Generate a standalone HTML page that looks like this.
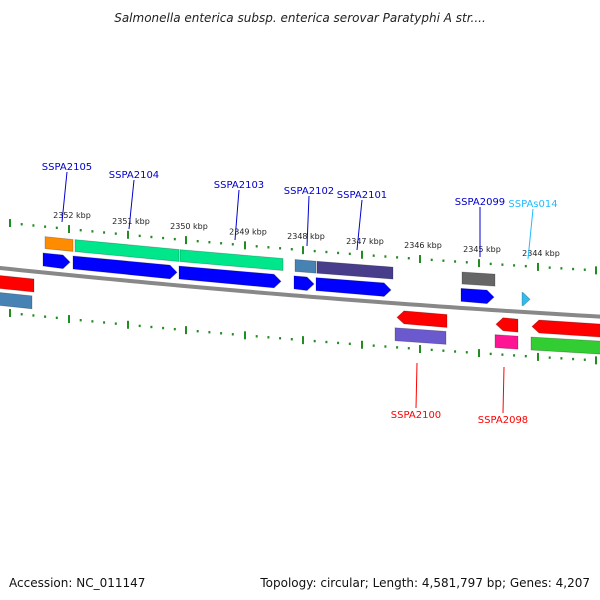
<!DOCTYPE html>
<html><head><meta charset="utf-8"><style>
html,body{margin:0;padding:0;background:#fff}
svg{display:block;font-family:"DejaVu Sans","Liberation Sans",sans-serif}
</style></head><body>
<svg width="600" height="600" viewBox="0 0 600 600" xmlns="http://www.w3.org/2000/svg">
<text x="300" y="22" text-anchor="middle" font-size="12" font-style="italic" fill="#222">Salmonella enterica subsp. enterica serovar Paratyphi A str....</text>
<g id="ticks"></g>
<path id="backbone" fill="none" stroke="#888" stroke-width="4"/>
<g id="feats"></g>
<g id="labels"></g>
<text x="9" y="587" font-size="12" fill="#111">Accession: NC_011147</text>
<text x="590" y="587" text-anchor="end" font-size="12" fill="#111">Topology: circular; Length: 4,581,797 bp; Genes: 4,207</text>
</svg>
<script>
const kbpLabels=[2353,2352,2351,2350,2349,2348,2347,2346,2345,2344,2343];
const kbpX=[10,69,128,186,245,303,362,420,479,538,596];
const fwdRow1=[[45,73,'#ff8c00',0],[75,179,'#00e68a',0],[180,283,'#00e68a',0],[295,316,'#4682b4',0],[317,393,'#483d8b',0],[462,495,'#666666',0]];
const fwdRow2=[[43,70,'#0000ff',1],[73,177,'#0000ff',1],[179,281,'#0000ff',1],[294,314,'#0000ff',1],[316,391,'#0000ff',1],[461,494,'#0000ff',1],[522,530,'#33bbee',1]];
const revRow1=[[-5,34,'#ff0000',0],[397,447,'#ff0000',-1],[496,518,'#ff0000',-1],[532,605,'#ff0000',-1]];
const revRow2=[[-5,32,'#4682b4',0],[395,446,'#6a5acd',0],[495,518,'#ff1493',0],[531,605,'#32cd32',0]];
const geneNames=['SSPA2105','SSPA2104','SSPA2103','SSPA2102','SSPA2101','SSPA2099','SSPAs014','SSPA2100','SSPA2098'];
const geneLab=[[67,170,62,222,'#0000cc'],[134,178,129,229,'#0000cc'],[239,188,235,240,'#0000cc'],[309,194,307,246,'#0000cc'],[362,198,357,250,'#0000cc'],[480,205,480,257,'#0000cc'],[533,207,528,259,'#22bbff'],[416,418,417,363,'#ff0000'],[503,423,504,367,'#ff0000']];
const NS='http://www.w3.org/2000/svg';
function by(x){return 268+0.105*x-0.00004*x*x;}
function mk(t,a,p){const e=document.createElementNS(NS,t);for(const k in a)e.setAttribute(k,a[k]);p.appendChild(e);return e;}
let d='';for(let x=-10;x<=610;x+=10)d+=(x<0?'M':'L')+x+','+by(x);
document.getElementById('backbone').setAttribute('d',d);
const tg=document.getElementById('ticks');
for(let i=0;i<kbpX.length;i++){
 for(let j=0;j<5;j++){
  const x=kbpX[i]+j*11.7;if(x>600)continue;
  const maj=j==0;
  [[-46,-46],[44,44]].forEach(o=>{const y=by(x)+o[0];
   const l=mk('line',{x1:x,x2:x,y1:y-(maj?4:1.2),y2:y+(maj?4:1.2),stroke:'#228b22','stroke-width':2},tg);
   });
 }
 if(i>0&&i<10){const t=mk('text',{x:kbpX[i]+3,y:by(kbpX[i])-57,'text-anchor':'middle','font-size':8,fill:'#222'},tg);t.textContent=kbpLabels[i]+' kbp';
  }
}
const fg=document.getElementById('feats');
function feat(f,off,h){
 const [x1,x2,c,dir]=f;const a=7;let pts;
 const t1=by(x1)+off-h/2,b1=t1+h,t2=by(x2)+off-h/2,b2=t2+h;
 if(dir==1)pts=[[x1,t1],[x2-a,t2+(t1-t2)*a/(x2-x1)],[x2,(t2+b2)/2],[x2-a,b2],[x1,b1]];
 else if(dir==-1)pts=[[x1+a,t1],[x2,t2],[x2,b2],[x1+a,b1],[x1,(t1+b1)/2]];
 else pts=[[x1,t1],[x2,t2],[x2,b2],[x1,b1]];
 const p=mk('polygon',{points:pts.map(q=>q.join(',')).join(' '),fill:c,stroke:'rgba(0,0,0,0.25)','stroke-width':0.8},fg);
 
}
fwdRow1.forEach(f=>feat(f,-30,12));
fwdRow2.forEach(f=>feat(f,-13,13));
revRow1.forEach(f=>feat(f,14,13));
revRow2.forEach(f=>feat(f,31,13));
const lg=document.getElementById('labels');
geneLab.forEach((g,i)=>{
 const rev=g[1]>g[3];
 const l=mk('line',{x1:g[0],y1:rev?g[1]-10:g[1]+2,x2:g[2],y2:g[3],stroke:g[4],'stroke-width':1},lg);
 
 const t=mk('text',{x:g[0],y:g[1],'text-anchor':'middle','font-size':10,fill:g[4]},lg);t.textContent=geneNames[i];
 
});
</script>
</body></html>
